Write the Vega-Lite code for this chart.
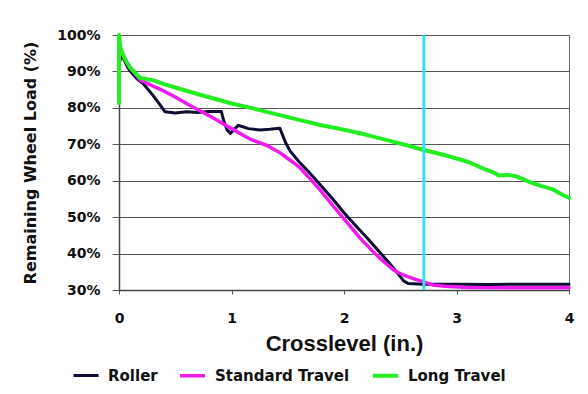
{
  "$schema": "https://vega.github.io/schema/vega-lite/v6.json",
  "width": 450,
  "height": 255,
  "autosize": {"type": "none"},
  "padding": {"left": 119, "top": 35, "right": 19, "bottom": 104},
  "background": "white",
  "config": {
    "view": {"stroke": "#666666", "strokeWidth": 1}
  },
  "datasets": {
    "curves": [
      {"series": "Roller", "i": 1, "x": 0.01, "y": 93},
      {"series": "Roller", "i": 2, "x": 0.02, "y": 95.5},
      {"series": "Roller", "i": 3, "x": 0.04, "y": 93.5},
      {"series": "Roller", "i": 4, "x": 0.08, "y": 91},
      {"series": "Roller", "i": 5, "x": 0.12, "y": 89.3},
      {"series": "Roller", "i": 6, "x": 0.16, "y": 88},
      {"series": "Roller", "i": 7, "x": 0.22, "y": 86.5},
      {"series": "Roller", "i": 8, "x": 0.3, "y": 83.5},
      {"series": "Roller", "i": 9, "x": 0.36, "y": 81},
      {"series": "Roller", "i": 10, "x": 0.41, "y": 78.9},
      {"series": "Roller", "i": 11, "x": 0.5, "y": 78.6},
      {"series": "Roller", "i": 12, "x": 0.6, "y": 78.9},
      {"series": "Roller", "i": 13, "x": 0.7, "y": 78.7},
      {"series": "Roller", "i": 14, "x": 0.8, "y": 79},
      {"series": "Roller", "i": 15, "x": 0.91, "y": 79},
      {"series": "Roller", "i": 16, "x": 0.93, "y": 76.5},
      {"series": "Roller", "i": 17, "x": 0.96, "y": 74},
      {"series": "Roller", "i": 18, "x": 0.99, "y": 73},
      {"series": "Roller", "i": 19, "x": 1.02, "y": 74},
      {"series": "Roller", "i": 20, "x": 1.06, "y": 75.2},
      {"series": "Roller", "i": 21, "x": 1.1, "y": 74.8},
      {"series": "Roller", "i": 22, "x": 1.15, "y": 74.3},
      {"series": "Roller", "i": 23, "x": 1.25, "y": 73.9},
      {"series": "Roller", "i": 24, "x": 1.34, "y": 74.1},
      {"series": "Roller", "i": 25, "x": 1.43, "y": 74.4},
      {"series": "Roller", "i": 26, "x": 1.48, "y": 70.5},
      {"series": "Roller", "i": 27, "x": 1.52, "y": 68.2},
      {"series": "Roller", "i": 28, "x": 1.6, "y": 65.2},
      {"series": "Roller", "i": 29, "x": 1.7, "y": 62},
      {"series": "Roller", "i": 30, "x": 1.8, "y": 58.5},
      {"series": "Roller", "i": 31, "x": 1.9, "y": 55},
      {"series": "Roller", "i": 32, "x": 2.0, "y": 51.2},
      {"series": "Roller", "i": 33, "x": 2.1, "y": 47.8},
      {"series": "Roller", "i": 34, "x": 2.2, "y": 44.5},
      {"series": "Roller", "i": 35, "x": 2.3, "y": 41},
      {"series": "Roller", "i": 36, "x": 2.4, "y": 37.5},
      {"series": "Roller", "i": 37, "x": 2.48, "y": 34.5},
      {"series": "Roller", "i": 38, "x": 2.53, "y": 32.5},
      {"series": "Roller", "i": 39, "x": 2.57, "y": 31.8},
      {"series": "Roller", "i": 40, "x": 2.7, "y": 31.6},
      {"series": "Roller", "i": 41, "x": 3.0, "y": 31.6},
      {"series": "Roller", "i": 42, "x": 3.3, "y": 31.5},
      {"series": "Roller", "i": 43, "x": 3.6, "y": 31.6},
      {"series": "Roller", "i": 44, "x": 4.0, "y": 31.6},
      {"series": "Standard Travel", "i": 1, "x": 0.024, "y": 95.4},
      {"series": "Standard Travel", "i": 2, "x": 0.06, "y": 93},
      {"series": "Standard Travel", "i": 3, "x": 0.1, "y": 91},
      {"series": "Standard Travel", "i": 4, "x": 0.19, "y": 87.6},
      {"series": "Standard Travel", "i": 5, "x": 0.28, "y": 86.3},
      {"series": "Standard Travel", "i": 6, "x": 0.4, "y": 84.6},
      {"series": "Standard Travel", "i": 7, "x": 0.5, "y": 83},
      {"series": "Standard Travel", "i": 8, "x": 0.6, "y": 81.2},
      {"series": "Standard Travel", "i": 9, "x": 0.72, "y": 79.2},
      {"series": "Standard Travel", "i": 10, "x": 0.85, "y": 77},
      {"series": "Standard Travel", "i": 11, "x": 1.0, "y": 74.3},
      {"series": "Standard Travel", "i": 12, "x": 1.16, "y": 71.5},
      {"series": "Standard Travel", "i": 13, "x": 1.32, "y": 69.6},
      {"series": "Standard Travel", "i": 14, "x": 1.43, "y": 67.7},
      {"series": "Standard Travel", "i": 15, "x": 1.49, "y": 66.3},
      {"series": "Standard Travel", "i": 16, "x": 1.55, "y": 65},
      {"series": "Standard Travel", "i": 17, "x": 1.61, "y": 63.5},
      {"series": "Standard Travel", "i": 18, "x": 1.7, "y": 60.5},
      {"series": "Standard Travel", "i": 19, "x": 1.8, "y": 57},
      {"series": "Standard Travel", "i": 20, "x": 1.9, "y": 53.2},
      {"series": "Standard Travel", "i": 21, "x": 2.03, "y": 48.4},
      {"series": "Standard Travel", "i": 22, "x": 2.15, "y": 44},
      {"series": "Standard Travel", "i": 23, "x": 2.25, "y": 40.8},
      {"series": "Standard Travel", "i": 24, "x": 2.32, "y": 38.7},
      {"series": "Standard Travel", "i": 25, "x": 2.44, "y": 35.5},
      {"series": "Standard Travel", "i": 26, "x": 2.52, "y": 34.2},
      {"series": "Standard Travel", "i": 27, "x": 2.61, "y": 33.2},
      {"series": "Standard Travel", "i": 28, "x": 2.7, "y": 32.3},
      {"series": "Standard Travel", "i": 29, "x": 2.79, "y": 31.4},
      {"series": "Standard Travel", "i": 30, "x": 2.9, "y": 31},
      {"series": "Standard Travel", "i": 31, "x": 3.1, "y": 30.7},
      {"series": "Standard Travel", "i": 32, "x": 3.5, "y": 30.6},
      {"series": "Standard Travel", "i": 33, "x": 4.0, "y": 30.6},
      {"series": "Long Travel", "i": 1, "x": 0, "y": 81.3},
      {"series": "Long Travel", "i": 2, "x": 0, "y": 100},
      {"series": "Long Travel", "i": 3, "x": 0.01, "y": 97},
      {"series": "Long Travel", "i": 4, "x": 0.024, "y": 95.4},
      {"series": "Long Travel", "i": 5, "x": 0.06, "y": 93},
      {"series": "Long Travel", "i": 6, "x": 0.1, "y": 91},
      {"series": "Long Travel", "i": 7, "x": 0.19, "y": 88.2},
      {"series": "Long Travel", "i": 8, "x": 0.3, "y": 87.6},
      {"series": "Long Travel", "i": 9, "x": 0.4, "y": 86.5},
      {"series": "Long Travel", "i": 10, "x": 0.5, "y": 85.6},
      {"series": "Long Travel", "i": 11, "x": 0.72, "y": 83.6},
      {"series": "Long Travel", "i": 12, "x": 0.85, "y": 82.5},
      {"series": "Long Travel", "i": 13, "x": 1.0, "y": 81.2},
      {"series": "Long Travel", "i": 14, "x": 1.2, "y": 79.8},
      {"series": "Long Travel", "i": 15, "x": 1.43, "y": 78},
      {"series": "Long Travel", "i": 16, "x": 1.6, "y": 76.7},
      {"series": "Long Travel", "i": 17, "x": 1.79, "y": 75.3},
      {"series": "Long Travel", "i": 18, "x": 2.0, "y": 74},
      {"series": "Long Travel", "i": 19, "x": 2.2, "y": 72.6},
      {"series": "Long Travel", "i": 20, "x": 2.4, "y": 71},
      {"series": "Long Travel", "i": 21, "x": 2.55, "y": 69.8},
      {"series": "Long Travel", "i": 22, "x": 2.7, "y": 68.5},
      {"series": "Long Travel", "i": 23, "x": 2.9, "y": 67},
      {"series": "Long Travel", "i": 24, "x": 3.1, "y": 65.2},
      {"series": "Long Travel", "i": 25, "x": 3.25, "y": 63.2},
      {"series": "Long Travel", "i": 26, "x": 3.32, "y": 62.4},
      {"series": "Long Travel", "i": 27, "x": 3.38, "y": 61.4},
      {"series": "Long Travel", "i": 28, "x": 3.45, "y": 61.6},
      {"series": "Long Travel", "i": 29, "x": 3.52, "y": 61.3},
      {"series": "Long Travel", "i": 30, "x": 3.58, "y": 60.6},
      {"series": "Long Travel", "i": 31, "x": 3.65, "y": 59.6},
      {"series": "Long Travel", "i": 32, "x": 3.75, "y": 58.6},
      {"series": "Long Travel", "i": 33, "x": 3.85, "y": 57.7},
      {"series": "Long Travel", "i": 34, "x": 3.95, "y": 56},
      {"series": "Long Travel", "i": 35, "x": 4.0, "y": 55.3}
    ],
    "marker": [{"x": 2.71}]
  },
  "layer": [
    {
      "data": {"name": "curves"},
      "mark": {"type": "line", "strokeJoin": "round", "strokeCap": "round"},
      "encoding": {
        "x": {
          "field": "x", "type": "quantitative",
          "scale": {"domain": [0, 4], "nice": false},
          "axis": {
            "values": [0, 1, 2, 3, 4], "format": "d", "grid": false, "labelFlush": false,
            "title": "Crosslevel (in.)",
            "domainColor": "#444444", "domainWidth": 1.5,
            "tickColor": "#555555", "tickSize": 4, "labelPadding": 17,
            "labelFont": "DejaVu Sans", "labelFontWeight": "bold", "labelFontSize": 14, "labelColor": "#111111",
            "titleFont": "Liberation Sans", "titleFontWeight": "bold", "titleFontSize": 22, "titleColor": "#111111",
            "titlePadding": 8
          }
        },
        "y": {
          "field": "y", "type": "quantitative",
          "scale": {"domain": [30, 100], "nice": false, "zero": false},
          "axis": {
            "values": [30, 40, 50, 60, 70, 80, 90, 100],
            "labelExpr": "datum.value + '%'", "labelFlush": false,
            "title": "Remaining Wheel Load (%)",
            "grid": true, "gridColor": "#555555", "gridWidth": 1, "gridOpacity": 1,
            "domainColor": "#444444", "domainWidth": 1.5,
            "tickColor": "#555555", "tickSize": 7, "labelPadding": 12,
            "labelFont": "DejaVu Sans", "labelFontWeight": "bold", "labelFontSize": 14, "labelColor": "#111111",
            "titleFont": "DejaVu Sans", "titleFontWeight": "bold", "titleFontSize": 16, "titleColor": "#111111",
            "titlePadding": 18
          }
        },
        "color": {
          "field": "series", "type": "nominal",
          "scale": {"domain": ["Roller", "Standard Travel", "Long Travel"], "range": ["#0d0d35", "#ee1aee", "#22ee22"]},
          "legend": {
            "title": null, "orient": "none", "direction": "horizontal",
            "legendX": -47, "legendY": 326,
            "symbolType": "stroke", "symbolSize": 625, "symbolStrokeWidth": 4,
            "labelFont": "DejaVu Sans", "labelFontWeight": "bold", "labelFontSize": 15, "labelColor": "#111111",
            "labelOffset": 8, "columnPadding": 15, "padding": 0
          }
        },
        "strokeWidth": {
          "field": "series", "type": "nominal",
          "scale": {"domain": ["Roller", "Standard Travel", "Long Travel"], "range": [3, 4, 4]},
          "legend": null
        },
        "order": {"field": "i", "type": "quantitative"}
      }
    },
    {
      "data": {"name": "marker"},
      "mark": {"type": "rule", "color": "#33e0ee", "strokeWidth": 3},
      "encoding": {"x": {"field": "x", "type": "quantitative"}}
    }
  ]
}
